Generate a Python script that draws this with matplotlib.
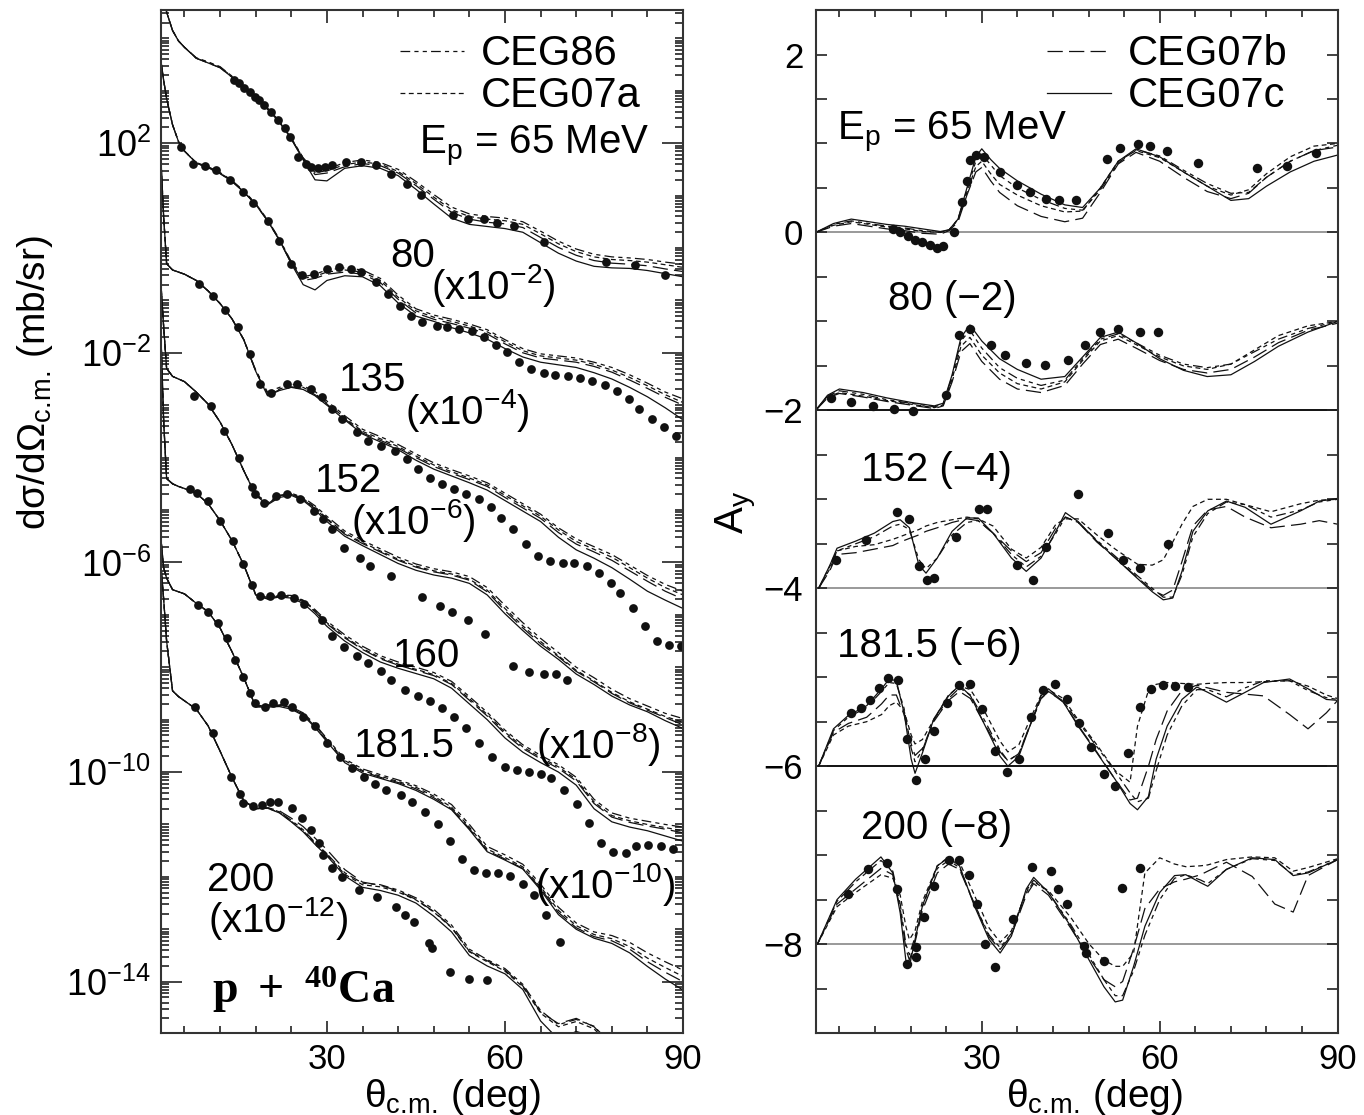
import numpy as np
import matplotlib
matplotlib.use('Agg')
import matplotlib.pyplot as plt
from matplotlib.ticker import FixedLocator, MultipleLocator, LogLocator, NullFormatter

plt.rcParams['font.family'] = ['Liberation Sans', 'DejaVu Sans']
plt.rcParams['mathtext.fontset'] = 'custom'
plt.rcParams['mathtext.rm'] = 'Liberation Sans'
plt.rcParams['mathtext.it'] = 'Liberation Sans:italic'
plt.rcParams['mathtext.bf'] = 'Liberation Serif:bold'
plt.rcParams['lines.scale_dashes'] = False

# ---------------- cross sections, log10(dsigma/dOmega / mb/sr), unscaled ----------------
th_l = [2, 2.5, 3, 4, 5, 6, 8, 10, 12, 14, 16, 18, 20, 22, 24, 26, 28, 30, 33, 36,
        39, 42, 45, 48, 51, 54, 57, 60, 63, 66, 69, 72, 75, 78, 81, 84, 87, 90]

xs65_c07c = [5.4, 4.9, 4.5, 4.15, 3.95, 3.83, 3.62, 3.53, 3.44, 3.26, 3.07, 2.88, 2.65, 2.40, 2.08, 1.68, 1.30, 1.28, 1.52, 1.57,
             1.52, 1.38, 1.12, 0.84, 0.57, 0.45, 0.41, 0.37, 0.30, 0.10, -0.10, -0.25, -0.35, -0.38, -0.39, -0.43, -0.49, -0.55]
xs65_c86 = [5.4, 4.9, 4.5, 4.15, 3.95, 3.83, 3.63, 3.55, 3.46, 3.28, 3.09, 2.90, 2.67, 2.42, 2.10, 1.72, 1.48, 1.50, 1.63, 1.68,
            1.63, 1.50, 1.27, 1.02, 0.78, 0.65, 0.60, 0.57, 0.50, 0.32, 0.13, -0.02, -0.12, -0.17, -0.19, -0.22, -0.27, -0.31]
xs65_c07a = [5.4, 4.9, 4.5, 4.15, 3.95, 3.83, 3.62, 3.54, 3.45, 3.27, 3.08, 2.89, 2.66, 2.41, 2.09, 1.71, 1.44, 1.47, 1.59, 1.64,
             1.60, 1.46, 1.23, 0.97, 0.73, 0.60, 0.55, 0.52, 0.45, 0.27, 0.08, -0.07, -0.17, -0.22, -0.24, -0.27, -0.32, -0.37]
xs65_c07b = [5.4, 4.9, 4.5, 4.15, 3.95, 3.83, 3.62, 3.53, 3.44, 3.26, 3.07, 2.88, 2.65, 2.40, 2.08, 1.70, 1.40, 1.43, 1.55, 1.61,
             1.57, 1.43, 1.19, 0.93, 0.68, 0.55, 0.49, 0.46, 0.39, 0.20, 0.01, -0.14, -0.24, -0.29, -0.31, -0.34, -0.40, -0.45]

xs80_c07c = [5.6, 5.2, 4.85, 4.35, 4.03, 3.85, 3.62, 3.53, 3.42, 3.27, 3.07, 2.83, 2.52, 2.15, 1.70, 1.30, 1.20, 1.38, 1.47, 1.45,
             1.28, 0.95, 0.70, 0.60, 0.48, 0.38, 0.26, 0.08, -0.08, -0.18, -0.23, -0.28, -0.38, -0.50, -0.66, -0.84, -1.05, -1.28]
xs80_c86 = [5.6, 5.2, 4.85, 4.35, 4.03, 3.85, 3.63, 3.55, 3.44, 3.29, 3.09, 2.85, 2.54, 2.17, 1.74, 1.45, 1.50, 1.58, 1.62, 1.58,
            1.42, 1.10, 0.84, 0.72, 0.64, 0.55, 0.44, 0.25, 0.08, -0.02, -0.06, -0.10, -0.18, -0.28, -0.42, -0.58, -0.75, -0.88]
xs80_c07a = [5.6, 5.2, 4.85, 4.35, 4.03, 3.85, 3.62, 3.54, 3.43, 3.28, 3.08, 2.84, 2.53, 2.16, 1.72, 1.42, 1.46, 1.54, 1.58, 1.54,
             1.38, 1.06, 0.80, 0.68, 0.60, 0.51, 0.40, 0.21, 0.04, -0.06, -0.10, -0.14, -0.22, -0.33, -0.47, -0.63, -0.80, -0.95]
xs80_c07b = [5.6, 5.2, 4.85, 4.35, 4.03, 3.85, 3.62, 3.53, 3.42, 3.27, 3.07, 2.83, 2.52, 2.15, 1.71, 1.38, 1.42, 1.50, 1.54, 1.50,
             1.34, 1.02, 0.76, 0.64, 0.56, 0.47, 0.36, 0.17, 0.00, -0.10, -0.14, -0.18, -0.26, -0.37, -0.52, -0.68, -0.85, -1.00]

xs135_c07c = [5.8, 4.6, 3.70, 3.58, 3.54, 3.50, 3.38, 3.18, 2.94, 2.65, 2.25, 1.65, 1.18, 1.28, 1.34, 1.30, 1.18, 1.00, 0.72, 0.45,
              0.30, 0.15, -0.05, -0.22, -0.35, -0.48, -0.62, -0.82, -1.02, -1.22, -1.52, -1.76, -1.92, -2.10, -2.32, -2.55, -2.72, -2.88]
xs135_c86 = [5.8, 4.6, 3.70, 3.58, 3.54, 3.50, 3.38, 3.18, 2.94, 2.65, 2.25, 1.67, 1.25, 1.34, 1.40, 1.37, 1.26, 1.08, 0.80, 0.54,
             0.40, 0.25, 0.07, -0.10, -0.23, -0.35, -0.48, -0.68, -0.88, -1.08, -1.34, -1.55, -1.70, -1.85, -2.05, -2.25, -2.42, -2.55]
xs135_c07a = [5.8, 4.6, 3.70, 3.58, 3.54, 3.50, 3.38, 3.18, 2.94, 2.65, 2.25, 1.66, 1.22, 1.31, 1.37, 1.34, 1.22, 1.04, 0.76, 0.50,
              0.36, 0.21, 0.03, -0.14, -0.27, -0.39, -0.52, -0.72, -0.92, -1.12, -1.38, -1.60, -1.75, -1.90, -2.10, -2.30, -2.48, -2.62]
xs135_c07b = [5.8, 4.6, 3.70, 3.58, 3.54, 3.50, 3.38, 3.18, 2.94, 2.65, 2.25, 1.65, 1.20, 1.29, 1.35, 1.32, 1.20, 1.02, 0.74, 0.47,
              0.33, 0.18, 0.00, -0.17, -0.30, -0.42, -0.55, -0.76, -0.96, -1.16, -1.43, -1.65, -1.80, -1.96, -2.16, -2.36, -2.55, -2.70]

xs152_c07c = [5.4, 4.5, 3.70, 3.55, 3.50, 3.45, 3.25, 3.02, 2.68, 2.25, 1.75, 1.28, 1.10, 1.24, 1.28, 1.18, 1.00, 0.78, 0.50, 0.32,
              0.15, -0.02, -0.15, -0.24, -0.30, -0.40, -0.62, -0.98, -1.30, -1.60, -1.85, -2.13, -2.33, -2.55, -2.72, -2.85, -3.02, -3.17]
xs152_c86 = [5.4, 4.5, 3.70, 3.55, 3.50, 3.45, 3.25, 3.02, 2.68, 2.25, 1.75, 1.30, 1.15, 1.28, 1.32, 1.24, 1.08, 0.88, 0.60, 0.42,
             0.26, 0.10, -0.03, -0.12, -0.18, -0.27, -0.48, -0.82, -1.15, -1.45, -1.72, -2.00, -2.20, -2.42, -2.60, -2.74, -2.88, -2.98]
xs152_c07a = [5.4, 4.5, 3.70, 3.55, 3.50, 3.45, 3.25, 3.02, 2.68, 2.25, 1.75, 1.29, 1.13, 1.27, 1.31, 1.22, 1.05, 0.84, 0.56, 0.38,
              0.22, 0.06, -0.07, -0.16, -0.22, -0.32, -0.53, -0.88, -1.21, -1.51, -1.78, -2.06, -2.26, -2.48, -2.66, -2.80, -2.94, -3.05]
xs152_c07b = [5.4, 4.5, 3.70, 3.55, 3.50, 3.45, 3.25, 3.02, 2.68, 2.25, 1.75, 1.28, 1.12, 1.26, 1.30, 1.20, 1.03, 0.82, 0.54, 0.36,
              0.20, 0.04, -0.09, -0.18, -0.24, -0.34, -0.56, -0.92, -1.25, -1.55, -1.80, -2.08, -2.28, -2.50, -2.68, -2.82, -2.96, -3.10]

xs160_c07c = [6.5, 4.7, 3.60, 3.50, 3.45, 3.41, 3.32, 3.12, 2.80, 2.42, 1.95, 1.38, 1.30, 1.34, 1.32, 1.22, 1.02, 0.78, 0.50, 0.28,
              0.10, -0.02, -0.12, -0.22, -0.40, -0.70, -1.00, -1.35, -1.62, -1.82, -2.00, -2.25, -2.70, -2.95, -3.05, -3.12, -3.22, -3.32]
xs160_c86 = [6.5, 4.7, 3.60, 3.50, 3.45, 3.41, 3.32, 3.12, 2.80, 2.42, 1.95, 1.40, 1.33, 1.38, 1.37, 1.28, 1.10, 0.88, 0.62, 0.40,
             0.22, 0.10, 0.00, -0.10, -0.27, -0.56, -0.86, -1.20, -1.48, -1.68, -1.86, -2.10, -2.52, -2.78, -2.88, -2.94, -3.00, -3.05]
xs160_c07a = [6.5, 4.7, 3.60, 3.50, 3.45, 3.41, 3.32, 3.12, 2.80, 2.42, 1.95, 1.39, 1.32, 1.37, 1.36, 1.27, 1.08, 0.85, 0.58, 0.36,
              0.18, 0.06, -0.04, -0.14, -0.31, -0.60, -0.90, -1.24, -1.52, -1.72, -1.90, -2.14, -2.57, -2.83, -2.93, -3.00, -3.06, -3.12]
xs160_c07b = [6.5, 4.7, 3.60, 3.50, 3.45, 3.41, 3.32, 3.12, 2.80, 2.42, 1.95, 1.38, 1.31, 1.36, 1.35, 1.25, 1.06, 0.83, 0.56, 0.34,
              0.16, 0.04, -0.06, -0.16, -0.33, -0.63, -0.93, -1.27, -1.55, -1.75, -1.93, -2.17, -2.60, -2.86, -2.96, -3.03, -3.09, -3.16]

xs181_c07c = [4.5, 3.9, 3.7, 3.48, 3.44, 3.40, 3.22, 3.06, 2.75, 2.30, 1.80, 1.24, 1.24, 1.25, 1.20, 1.08, 0.85, 0.58, 0.18, -0.02,
              -0.12, -0.22, -0.35, -0.52, -0.72, -1.10, -1.52, -1.68, -1.85, -2.25, -2.72, -3.00, -3.17, -3.27, -3.45, -3.71, -3.95, -4.16]
xs181_c86 = [4.5, 3.9, 3.7, 3.48, 3.44, 3.40, 3.22, 3.06, 2.75, 2.30, 1.80, 1.26, 1.28, 1.29, 1.24, 1.13, 0.91, 0.64, 0.25, 0.06,
             -0.05, -0.15, -0.26, -0.42, -0.62, -1.00, -1.42, -1.58, -1.76, -2.14, -2.58, -2.88, -3.05, -3.12, -3.25, -3.45, -3.62, -3.78]
xs181_c07a = [4.5, 3.9, 3.7, 3.48, 3.44, 3.40, 3.22, 3.06, 2.75, 2.30, 1.80, 1.25, 1.27, 1.28, 1.23, 1.11, 0.89, 0.62, 0.22, 0.03,
              -0.08, -0.18, -0.29, -0.46, -0.67, -1.05, -1.47, -1.63, -1.81, -2.19, -2.64, -2.93, -3.10, -3.18, -3.33, -3.55, -3.73, -3.90]
xs181_c07b = [4.5, 3.9, 3.7, 3.48, 3.44, 3.40, 3.22, 3.06, 2.75, 2.30, 1.80, 1.25, 1.26, 1.27, 1.22, 1.10, 0.87, 0.60, 0.20, 0.01,
              -0.10, -0.20, -0.32, -0.49, -0.70, -1.08, -1.50, -1.66, -1.84, -2.22, -2.68, -2.97, -3.14, -3.22, -3.38, -3.62, -3.82, -4.00]

xs200_c07c = [6.0, 5.3, 4.5, 3.55, 3.44, 3.36, 3.20, 2.88, 2.40, 1.90, 1.45, 1.30, 1.31, 1.22, 1.05, 0.86, 0.62, 0.40, 0.02, -0.20,
              -0.26, -0.35, -0.50, -0.75, -1.05, -1.50, -1.70, -1.85, -2.15, -2.75, -3.10, -2.95, -3.05, -3.40, -3.60, -3.80, -4.00, -4.20]
xs200_c86 = [6.0, 5.3, 4.5, 3.55, 3.44, 3.36, 3.20, 2.88, 2.40, 1.90, 1.45, 1.31, 1.32, 1.24, 1.08, 0.90, 0.66, 0.44, 0.08, -0.12,
             -0.15, -0.25, -0.40, -0.62, -0.92, -1.38, -1.58, -1.75, -2.05, -2.55, -2.82, -2.72, -2.85, -3.20, -3.50, -3.75, -3.95, -4.10]
xs200_c07a = [6.0, 5.3, 4.5, 3.55, 3.44, 3.36, 3.20, 2.88, 2.40, 1.90, 1.45, 1.30, 1.31, 1.23, 1.06, 0.88, 0.64, 0.42, 0.05, -0.15,
              -0.19, -0.29, -0.44, -0.67, -0.97, -1.43, -1.62, -1.80, -2.10, -2.60, -2.86, -2.76, -2.90, -3.25, -3.55, -3.80, -4.00, -4.15]
xs200_c07b = [6.0, 5.3, 4.5, 3.55, 3.44, 3.36, 3.20, 2.88, 2.40, 1.90, 1.45, 1.30, 1.32, 1.26, 1.12, 0.96, 0.74, 0.52, 0.14, -0.10,
              -0.16, -0.27, -0.43, -0.66, -0.96, -1.42, -1.60, -1.78, -2.08, -2.58, -2.80, -2.70, -2.86, -3.22, -3.52, -3.78, -3.98, -4.12]

# measured cross sections (log10, unscaled)
d65_th = [14.4, 15.2, 16.1, 17.0, 17.9, 18.5, 19.4, 20.5, 21.7, 22.9, 23.8, 25.2, 26.4, 27.3, 28.5, 29.7, 30.8, 33.2, 35.8, 38.2,
          40.8, 43.5, 45.9, 51.2, 53.7, 56.4, 58.6, 61.5, 66.6, 77.0, 81.9, 86.9]
d65_lg = [3.20, 3.14, 3.05, 2.98, 2.89, 2.82, 2.73, 2.60, 2.44, 2.28, 2.12, 1.74, 1.61, 1.55, 1.52, 1.55, 1.58, 1.64, 1.64, 1.58,
          1.42, 1.23, 1.01, 0.63, 0.56, 0.55, 0.47, 0.42, 0.12, -0.26, -0.33, -0.52]
d80_th = [5.4, 7.4, 9.4, 11.3, 13.7, 15.8, 17.6, 20.0, 22.0, 23.9, 25.8, 27.9, 30.0, 32.0, 34.1, 35.8, 38.2, 40.3, 42.3, 44.1,
          46.1, 48.5, 50.3, 52.3, 54.4, 56.4, 58.5, 60.3, 62.3, 64.4, 66.5, 68.5, 70.6, 72.6, 74.7, 76.8, 78.8, 80.9, 82.6, 84.7,
          86.8, 88.8]
d80_lg = [3.93, 3.61, 3.57, 3.48, 3.29, 3.07, 2.85, 2.51, 2.13, 1.69, 1.48, 1.51, 1.60, 1.63, 1.60, 1.54, 1.35, 1.13, 0.90, 0.71,
          0.58, 0.52, 0.49, 0.46, 0.42, 0.30, 0.14, 0.01, -0.18, -0.31, -0.39, -0.42, -0.45, -0.48, -0.53, -0.61, -0.72, -0.88,
          -1.07, -1.26, -1.42, -1.58]
d135_th = [8.5, 10.8, 12.9, 15.0, 17.0, 18.8, 20.5, 23.2, 25.0, 27.3, 29.1, 30.8, 32.6, 35.0, 37.0, 39.1, 41.4, 43.5, 45.3, 47.3,
           49.4, 51.4, 53.5, 55.6, 57.6, 59.4, 61.4, 63.5, 65.6, 67.6, 69.7, 71.7, 73.8, 75.9, 77.9, 79.4, 81.5, 83.5, 85.6, 87.6,
           89.7]
d135_lg = [3.32, 3.09, 2.81, 2.49, 1.98, 1.41, 1.24, 1.41, 1.41, 1.31, 1.15, 0.93, 0.74, 0.48, 0.32, 0.23, 0.13, -0.03, -0.22, -0.38,
           -0.51, -0.60, -0.70, -0.79, -0.95, -1.15, -1.37, -1.65, -1.88, -1.97, -2.01, -2.01, -2.07, -2.20, -2.39, -2.58, -2.87,
           -3.22, -3.50, -3.57, -3.60]
d152_th = [7.6, 10.5, 12.6, 15.2, 17.3, 17.9, 19.4, 21.4, 23.2, 25.5, 27.9, 29.4, 30.8, 32.9, 35.5, 37.3, 40.8, 46.0, 49.0, 51.0,
           53.7, 56.6, 61.4, 64.0, 66.6, 68.6, 70.5]
d152_lg = [3.18, 2.99, 2.51, 2.00, 1.43, 1.30, 1.14, 1.27, 1.30, 1.21, 0.98, 0.82, 0.63, 0.28, 0.09, -0.07, -0.26, -0.66, -0.83,
           -0.95, -1.10, -1.36, -1.97, -2.10, -2.12, -2.13, -2.25]
d160_th = [7.0, 8.2, 9.9, 12.0, 14.1, 15.9, 17.3, 18.7, 20.4, 22.2, 24.4, 26.1, 29.1, 30.8, 32.9, 35.0, 37.0, 39.1, 40.8, 43.2,
           45.3, 47.3, 49.4, 51.4, 53.5, 55.7, 57.8, 60.0, 62.0, 64.0, 66.0, 67.8, 69.9, 72.1, 74.1, 76.1, 78.2, 80.3, 82.1, 84.1,
           86.2, 88.3]
d160_lg = [3.40, 3.33, 3.17, 2.79, 2.41, 1.97, 1.56, 1.35, 1.36, 1.37, 1.33, 1.20, 0.91, 0.60, 0.38, 0.21, 0.08, -0.08, -0.24, -0.43,
           -0.55, -0.65, -0.78, -0.94, -1.16, -1.45, -1.72, -1.90, -1.96, -2.00, -2.04, -2.12, -2.34, -2.61, -2.98, -3.36, -3.52,
           -3.54, -3.42, -3.39, -3.42, -3.47]
d181_th = [8.3, 10.0, 11.7, 13.1, 14.5, 15.9, 17.0, 17.9, 19.6, 21.0, 22.7, 24.1, 26.0, 28.0, 30.0, 32.2, 34.2, 36.2, 38.1, 39.9,
           42.4, 44.4, 46.6, 48.7, 50.7, 52.7, 54.8, 56.8, 58.9, 60.9, 63.0, 64.9, 66.9, 69.2]
d181_lg = [3.19, 3.06, 2.84, 2.55, 2.14, 1.82, 1.50, 1.31, 1.25, 1.31, 1.34, 1.25, 1.06, 0.87, 0.55, 0.29, 0.07, -0.09, -0.22, -0.34,
           -0.44, -0.58, -0.77, -1.00, -1.31, -1.65, -1.86, -1.92, -1.93, -1.98, -2.14, -2.35, -2.73, -3.24]
d200_th = [7.7, 10.8, 13.9, 15.3, 15.9, 17.6, 19.0, 20.4, 21.8, 24.1, 25.8, 27.4, 28.6, 29.4, 30.8, 32.5, 35.4, 38.4, 41.6, 43.1,
           44.6, 47.2, 47.7, 50.8, 53.9, 57.0]
d200_lg = [3.25, 2.74, 1.91, 1.59, 1.40, 1.35, 1.37, 1.43, 1.43, 1.31, 1.12, 0.89, 0.64, 0.42, 0.16, 0.00, -0.25, -0.38, -0.57, -0.73,
           -0.86, -1.27, -1.36, -1.81, -1.94, -1.97]

# ---------------- analyzing powers ----------------
th_r65 = [2, 5, 8, 11, 14, 17, 20, 23, 24.5, 26, 27.5, 29, 30, 31.5, 33, 36, 40, 44, 47, 50, 53, 56, 60, 64, 68, 72, 75, 78, 82, 86, 90]
ay65_c07c = [0.0, 0.10, 0.15, 0.12, 0.09, 0.07, 0.04, 0.01, 0.03, 0.15, 0.50, 0.85, 0.94, 0.82, 0.72, 0.58, 0.43, 0.31, 0.28, 0.50,
             0.80, 0.94, 0.85, 0.68, 0.52, 0.36, 0.38, 0.52, 0.68, 0.80, 0.87]
ay65_c86 = [0.0, 0.09, 0.13, 0.10, 0.07, 0.05, 0.02, 0.00, 0.03, 0.15, 0.48, 0.80, 0.88, 0.76, 0.64, 0.50, 0.37, 0.27, 0.25, 0.48,
            0.78, 0.93, 0.86, 0.70, 0.55, 0.44, 0.45, 0.62, 0.80, 0.92, 0.98]
ay65_c07a = [0.0, 0.08, 0.12, 0.09, 0.06, 0.04, 0.01, 0.00, 0.03, 0.14, 0.45, 0.74, 0.80, 0.66, 0.54, 0.42, 0.30, 0.23, 0.24, 0.50,
             0.80, 0.92, 0.84, 0.68, 0.52, 0.42, 0.48, 0.66, 0.85, 0.97, 1.00]
ay65_c07b = [0.0, 0.07, 0.10, 0.07, 0.04, 0.02, -0.01, -0.02, 0.02, 0.12, 0.42, 0.68, 0.73, 0.58, 0.45, 0.30, 0.18, 0.12, 0.16, 0.45,
             0.77, 0.90, 0.80, 0.62, 0.46, 0.38, 0.44, 0.62, 0.80, 0.92, 0.96]

th_r80 = [2, 4, 6, 10, 14, 18, 22, 23.5, 25, 26.5, 28, 30, 33, 36, 40, 44, 47, 50, 53, 56, 60, 64, 68, 72, 76, 80, 85, 90]
ay80_c07c = [0.0, 0.17, 0.24, 0.20, 0.14, 0.09, 0.05, 0.08, 0.40, 0.82, 0.96, 0.78, 0.58, 0.46, 0.35, 0.38, 0.60, 0.82, 0.88, 0.76,
             0.58, 0.45, 0.38, 0.40, 0.55, 0.72, 0.88, 1.0]
ay80_c86 = [0.0, 0.16, 0.22, 0.18, 0.12, 0.08, 0.04, 0.07, 0.38, 0.78, 0.90, 0.70, 0.48, 0.36, 0.28, 0.34, 0.58, 0.80, 0.86, 0.76,
            0.62, 0.52, 0.48, 0.52, 0.66, 0.80, 0.92, 1.0]
ay80_c07a = [0.0, 0.15, 0.20, 0.16, 0.11, 0.07, 0.03, 0.06, 0.35, 0.72, 0.82, 0.62, 0.42, 0.30, 0.24, 0.32, 0.56, 0.78, 0.84, 0.74,
             0.60, 0.50, 0.46, 0.52, 0.68, 0.84, 0.95, 1.0]
ay80_c07b = [0.0, 0.14, 0.19, 0.15, 0.10, 0.06, 0.02, 0.05, 0.32, 0.66, 0.75, 0.55, 0.35, 0.24, 0.20, 0.28, 0.52, 0.74, 0.80, 0.70,
             0.56, 0.46, 0.42, 0.46, 0.60, 0.76, 0.90, 0.98]

th_r152 = [2.5, 4.4, 5.6, 8.75, 11.9, 15, 16.25, 17.8, 19.4, 20.6, 22.5, 25, 27.5, 29.4, 31.9, 35, 37.5, 40, 42.5, 44.1,
           46.25, 49.4, 52.5, 56.25, 58.75, 60.6, 62.2, 63.75, 65.6, 68.1, 71.25, 74.4, 78.75, 83.75, 86.9, 90]
ay152_c07c = [0.0, 0.26, 0.45, 0.53, 0.62, 0.75, 0.77, 0.68, 0.26, 0.17, 0.34, 0.64, 0.79, 0.79, 0.62, 0.34, 0.19, 0.34, 0.64, 0.85,
              0.75, 0.53, 0.34, 0.11, -0.04, -0.13, -0.11, 0.19, 0.64, 0.87, 0.98, 0.91, 0.72, 0.87, 0.98, 1.01]
ay152_c86 = [0.0, 0.25, 0.42, 0.50, 0.58, 0.70, 0.72, 0.66, 0.32, 0.22, 0.34, 0.60, 0.74, 0.76, 0.62, 0.38, 0.24, 0.36, 0.62, 0.80,
             0.74, 0.54, 0.36, 0.14, 0.00, -0.10, -0.10, 0.15, 0.58, 0.84, 0.97, 0.94, 0.80, 0.88, 0.97, 1.0]
ay152_c07a = [0.0, 0.22, 0.42, 0.47, 0.49, 0.55, 0.58, 0.62, 0.66, 0.70, 0.74, 0.77, 0.80, 0.78, 0.70, 0.44, 0.34, 0.46, 0.72, 0.78,
              0.78, 0.60, 0.44, 0.27, 0.26, 0.32, 0.52, 0.72, 0.92, 1.00, 1.00, 0.94, 0.86, 0.95, 0.99, 1.0]
ay152_c07b = [0.0, 0.20, 0.38, 0.40, 0.44, 0.48, 0.52, 0.56, 0.60, 0.64, 0.68, 0.74, 0.78, 0.76, 0.62, 0.42, 0.30, 0.40, 0.68, 0.80,
              0.74, 0.52, 0.34, 0.12, -0.02, -0.08, -0.02, 0.30, 0.70, 0.88, 0.92, 0.80, 0.68, 0.72, 0.76, 0.72]

th_r181 = [2.5, 5, 7.5, 10.6, 13.1, 14.4, 15.6, 16.9, 18.1, 18.75, 20, 21.9, 24.4, 26.25, 28.1, 30.6, 33.1, 34.4, 36.25, 38.1,
           40, 41.25, 43.75, 46.25, 49.4, 52.5, 55, 56.25, 58.1, 59.4, 61.25, 63.75, 66.25, 68.1, 71.25, 74.4, 77.5, 81.9, 85, 88.1, 90]
ay181_c07c = [0.0, 0.42, 0.57, 0.68, 0.87, 0.98, 0.96, 0.60, 0.08, -0.08, 0.15, 0.53, 0.79, 0.91, 0.79, 0.45, 0.11, 0.0, 0.11, 0.45,
              0.79, 0.87, 0.72, 0.45, 0.15, -0.15, -0.42, -0.49, -0.34, 0.08, 0.45, 0.75, 0.89, 0.83, 0.72, 0.83, 0.94, 0.98, 0.87,
              0.75, 0.74]
ay181_c86 = [0.0, 0.40, 0.55, 0.66, 0.84, 0.94, 0.93, 0.65, 0.20, 0.05, 0.18, 0.52, 0.76, 0.88, 0.80, 0.50, 0.18, 0.06, 0.14, 0.45,
             0.76, 0.84, 0.73, 0.50, 0.22, -0.06, -0.30, -0.40, -0.36, -0.05, 0.35, 0.68, 0.86, 0.86, 0.78, 0.88, 0.96, 0.96, 0.85,
             0.77, 0.75]
ay181_c07a = [0.0, 0.35, 0.45, 0.50, 0.58, 0.68, 0.72, 0.62, 0.35, 0.25, 0.30, 0.52, 0.80, 0.90, 0.86, 0.60, 0.28, 0.16, 0.24, 0.52,
              0.80, 0.86, 0.76, 0.52, 0.24, -0.05, -0.18, 0.45, 0.85, 0.92, 0.94, 0.93, 0.92, 0.93, 0.94, 0.94, 0.95, 0.96, 0.90,
              0.80, 0.76]
ay181_c07b = [0.0, 0.38, 0.48, 0.55, 0.70, 0.80, 0.80, 0.58, 0.25, 0.12, 0.20, 0.50, 0.74, 0.84, 0.76, 0.46, 0.16, 0.06, 0.14, 0.46,
              0.76, 0.84, 0.72, 0.46, 0.16, -0.15, -0.38, -0.36, 0.00, 0.30, 0.62, 0.85, 0.91, 0.88, 0.83, 0.81, 0.79, 0.58, 0.42,
              0.60, 0.74]

th_r200 = [2.3, 5.6, 8.75, 13, 15, 16.25, 17.2, 17.8, 18.75, 20, 22.5, 24.4, 26.25, 28.75, 31.25, 33.1, 35, 37.5, 38.75, 41.25,
           45, 48.1, 50.6, 52.5, 53.75, 55.6, 57.5, 60, 62.5, 64.4, 66.9, 68.1, 71.25, 75.6, 79.4, 82.5, 85, 90]
ay200_c07c = [0.0, 0.50, 0.73, 0.98, 0.80, 0.35, -0.18, -0.25, 0.05, 0.43, 0.88, 0.97, 0.88, 0.43, 0.05, -0.10, 0.09, 0.62, 0.75, 0.58,
              0.20, -0.18, -0.48, -0.65, -0.63, -0.25, 0.20, 0.58, 0.77, 0.78, 0.69, 0.65, 0.84, 0.97, 0.95, 0.77, 0.80, 0.95]
ay200_c86 = [0.0, 0.48, 0.70, 0.94, 0.82, 0.45, 0.00, -0.12, 0.08, 0.42, 0.85, 0.94, 0.86, 0.45, 0.10, -0.04, 0.12, 0.60, 0.72, 0.58,
             0.22, -0.12, -0.40, -0.58, -0.58, -0.30, 0.10, 0.50, 0.74, 0.78, 0.72, 0.68, 0.84, 0.96, 0.94, 0.78, 0.81, 0.95]
ay200_c07a = [0.0, 0.42, 0.58, 0.78, 0.74, 0.55, 0.20, 0.05, 0.15, 0.48, 0.88, 0.98, 0.92, 0.55, 0.18, 0.02, 0.15, 0.58, 0.70, 0.60,
              0.30, 0.00, -0.18, -0.25, -0.25, -0.10, 0.80, 0.97, 0.90, 0.87, 0.88, 0.89, 0.95, 0.98, 0.97, 0.82, 0.86, 0.96]
ay200_c07b = [0.0, 0.45, 0.62, 0.85, 0.78, 0.40, -0.05, -0.18, 0.02, 0.38, 0.80, 0.90, 0.84, 0.45, 0.08, -0.06, 0.10, 0.55, 0.68, 0.55,
              0.18, -0.15, -0.40, -0.48, -0.42, -0.05, 0.40, 0.62, 0.70, 0.73, 0.78, 0.82, 0.92, 0.76, 0.45, 0.36, 0.77, 0.95]

a65_th = [15.0, 16.3, 17.5, 18.8, 20.0, 21.3, 22.5, 23.4, 25.3, 26.6, 27.5, 28.1, 29.1, 30.3, 33.1, 35.9, 38.1, 40.9, 43.1, 45.9,
          51.1, 53.3, 56.3, 58.3, 61.3, 66.4, 76.4, 81.4, 86.4]
a65_ay = [0.04, 0.00, -0.04, -0.08, -0.11, -0.14, -0.17, -0.15, 0.00, 0.34, 0.58, 0.81, 0.87, 0.85, 0.68, 0.53, 0.45, 0.38, 0.36, 0.37,
          0.82, 0.95, 0.99, 0.97, 0.91, 0.78, 0.72, 0.75, 0.89]
a80_th = [4.6, 8.0, 11.7, 15.2, 18.4, 23.9, 26.1, 28.1, 31.5, 34.0, 37.4, 40.7, 44.6, 47.4, 50.0, 53.0, 56.7, 59.7]
a80_ay = [0.14, 0.09, 0.05, 0.02, -0.01, 0.17, 0.85, 0.91, 0.74, 0.62, 0.53, 0.51, 0.57, 0.74, 0.88, 0.91, 0.88, 0.88]
a152_th = [5.5, 10.5, 15.75, 17.7, 19.4, 20.75, 21.9, 25.6, 29.5, 30.9, 35.9, 38.6, 40.9, 46.25, 51.25, 53.75, 56.7, 61.4]
a152_ay = [0.32, 0.54, 0.86, 0.78, 0.25, 0.09, 0.12, 0.58, 0.89, 0.89, 0.26, 0.09, 0.46, 1.06, 0.62, 0.32, 0.23, 0.50]
a181_th = [8.0, 9.6, 11.1, 12.6, 14.25, 15.8, 17.4, 18.9, 20.5, 21.9, 24.1, 26.1, 28.1, 30.0, 32.2, 34.25, 36.25, 38.3, 40.3, 42.4,
           44.4, 46.4, 48.4, 50.6, 52.5, 54.6, 56.6, 58.6, 60.6, 62.6, 64.7]
a181_ay = [0.60, 0.65, 0.74, 0.88, 0.99, 0.97, 0.31, -0.16, 0.08, 0.40, 0.71, 0.91, 0.92, 0.64, 0.17, -0.06, 0.08, 0.55, 0.86, 0.92,
           0.76, 0.49, 0.21, -0.09, -0.22, 0.15, 0.67, 0.87, 0.91, 0.90, 0.89]
a200_th = [7.5, 10.9, 14.1, 15.75, 17.4, 18.9, 18.9, 20.3, 21.9, 24.5, 26.1, 27.8, 29.25, 30.6, 32.2, 35.3, 38.4, 41.6, 42.8, 44.4,
           47.2, 47.6, 50.6, 53.6, 56.7]
a200_ay = [0.56, 0.84, 0.91, 0.62, -0.22, -0.15, -0.03, 0.31, 0.65, 0.95, 0.95, 0.78, 0.45, 0.00, -0.26, 0.28, 0.87, 0.82, 0.62, 0.45,
           -0.02, -0.10, -0.19, 0.63, 0.85]

models = ['CEG07c', 'CEG86', 'CEG07a', 'CEG07b']
dashes = {'CEG86': (0, (7, 3, 3, 3, 3, 3)), 'CEG07a': (0, (3.5, 2.5)),
          'CEG07b': (0, (11, 4.5)), 'CEG07c': '-'}

xs_sets = [
    (dict(zip(models, [xs65_c07c, xs65_c86, xs65_c07a, xs65_c07b])), d65_th, d65_lg),
    (dict(zip(models, [xs80_c07c, xs80_c86, xs80_c07a, xs80_c07b])), d80_th, d80_lg),
    (dict(zip(models, [xs135_c07c, xs135_c86, xs135_c07a, xs135_c07b])), d135_th, d135_lg),
    (dict(zip(models, [xs152_c07c, xs152_c86, xs152_c07a, xs152_c07b])), d152_th, d152_lg),
    (dict(zip(models, [xs160_c07c, xs160_c86, xs160_c07a, xs160_c07b])), d160_th, d160_lg),
    (dict(zip(models, [xs181_c07c, xs181_c86, xs181_c07a, xs181_c07b])), d181_th, d181_lg),
    (dict(zip(models, [xs200_c07c, xs200_c86, xs200_c07a, xs200_c07b])), d200_th, d200_lg),
]
ay_sets = [
    (th_r65, dict(zip(models, [ay65_c07c, ay65_c86, ay65_c07a, ay65_c07b])), a65_th, a65_ay),
    (th_r80, dict(zip(models, [ay80_c07c, ay80_c86, ay80_c07a, ay80_c07b])), a80_th, a80_ay),
    (th_r152, dict(zip(models, [ay152_c07c, ay152_c86, ay152_c07a, ay152_c07b])), a152_th, a152_ay),
    (th_r181, dict(zip(models, [ay181_c07c, ay181_c86, ay181_c07a, ay181_c07b])), a181_th, a181_ay),
    (th_r200, dict(zip(models, [ay200_c07c, ay200_c86, ay200_c07a, ay200_c07b])), a200_th, a200_ay),
]

fig = plt.figure(figsize=(13.64, 11.15), dpi=100)
ax1 = fig.add_axes([0.1178, 0.0735, 0.383, 0.9175])
ax2 = fig.add_axes([0.598, 0.0735, 0.3827, 0.9175])

ink = '#111111'
handles = {}
for k, (curves, dth, dlg) in enumerate(xs_sets):
    for m in models:
        ln, = ax1.plot(th_l, 10.0 ** (np.array(curves[m]) - 2 * k), color=ink, lw=0.9, ls=dashes[m])
        handles[m] = ln
    ax1.plot(dth, 10.0 ** (np.array(dlg) - 2 * k), 'o', color=ink, ms=6.3, mec='none')

for k, (th, curves, dth, day) in enumerate(ay_sets):
    ax2.axhline(-2 * k, color='#999999' if k % 2 == 0 else ink, lw=1.4, zorder=1)
    for m in models:
        ax2.plot(th, np.array(curves[m]) - 2 * k, color=ink, lw=0.9, ls=dashes[m], zorder=2)
    ax2.plot(dth, np.array(day) - 2 * k, 'o', color=ink, ms=6.8, mec='none', zorder=3)

# axes, ticks
for ax in (ax1, ax2):
    ax.set_xlim(2, 90)
    ax.xaxis.set_major_locator(FixedLocator([30, 60, 90]))
    ax.xaxis.set_minor_locator(MultipleLocator(6))
    ax.tick_params(which='both', direction='in', top=True, right=True, width=1.2, colors='#222222',
                   labelcolor='black', labelsize=25)
    ax.tick_params(axis='x', which='major', length=9, pad=7)
    ax.tick_params(axis='x', which='minor', length=5)
    for s in ax.spines.values():
        s.set_linewidth(1.5)
        s.set_color('#333333')

ax1.set_yscale('log')
ax1.set_ylim(10 ** -14.98, 10 ** 4.54)
ax1.yaxis.set_major_locator(FixedLocator([1e2, 1e-2, 1e-6, 1e-10, 1e-14]))
ax1.yaxis.set_minor_locator(LogLocator(base=10, subs=np.arange(1, 10), numticks=200))
ax1.yaxis.set_minor_formatter(NullFormatter())
ax1.tick_params(axis='y', which='major', length=15, pad=7, labelsize=26)
ax1.tick_params(axis='y', which='minor', length=6)

ax2.set_ylim(-9, 2.5)
ax2.yaxis.set_major_locator(MultipleLocator(2))
ax2.yaxis.set_minor_locator(MultipleLocator(0.5))
ax2.tick_params(axis='y', which='both', length=8, pad=9)

# legends
leg_kw = dict(loc='upper right', frameon=False, fontsize=30, handlelength=1.55,
              handletextpad=0.4, labelspacing=0.05, borderaxespad=0.3)
ax1.legend([handles['CEG86'], handles['CEG07a']], ['CEG86', 'CEG07a'], bbox_to_anchor=(0.975, 1.005), **leg_kw)
ax2.legend([handles['CEG07b'], handles['CEG07c']], ['CEG07b', 'CEG07c'], bbox_to_anchor=(0.96, 1.005), **leg_kw)

# annotations, left panel
fs = 29
t1 = ax1.transAxes
ax1.text(0.715, 0.868, 'E$_{\\rm p}$ = 65 MeV', transform=t1, ha='center', va='center', fontsize=fs)
ax1.text(0.483, 0.760, '80', transform=t1, ha='center', va='center', fontsize=fs)
ax1.text(0.636, 0.731, '(x10$^{-2}$)', transform=t1, ha='center', va='center', fontsize=fs)
ax1.text(0.406, 0.638, '135', transform=t1, ha='center', va='center', fontsize=fs)
ax1.text(0.588, 0.609, '(x10$^{-4}$)', transform=t1, ha='center', va='center', fontsize=fs)
ax1.text(0.359, 0.540, '152', transform=t1, ha='center', va='center', fontsize=fs)
ax1.text(0.483, 0.501, '(x10$^{-6}$)', transform=t1, ha='center', va='center', fontsize=fs)
ax1.text(0.508, 0.369, '160', transform=t1, ha='center', va='center', fontsize=fs)
ax1.text(0.837, 0.282, '(x10$^{-8}$)', transform=t1, ha='center', va='center', fontsize=fs)
ax1.text(0.466, 0.281, '181.5', transform=t1, ha='center', va='center', fontsize=fs)
ax1.text(0.851, 0.145, '(x10$^{-10}$)', transform=t1, ha='center', va='center', fontsize=fs)
ax1.text(0.154, 0.150, '200', transform=t1, ha='center', va='center', fontsize=fs)
ax1.text(0.225, 0.112, '(x10$^{-12}$)', transform=t1, ha='center', va='center', fontsize=fs)
ax1.text(0.273, 0.042, r'$\mathbf{p\ +\ {}^{40}Ca}$', transform=t1, ha='center', va='center', fontsize=33)

# annotations, right panel
t2 = ax2.transAxes
ax2.text(0.262, 0.881, 'E$_{\\rm p}$ = 65 MeV', transform=t2, ha='center', va='center', fontsize=fs)
ax2.text(0.261, 0.718, '80 (\u22122)', transform=t2, ha='center', va='center', fontsize=fs)
ax2.text(0.232, 0.550, '152 (\u22124)', transform=t2, ha='center', va='center', fontsize=fs)
ax2.text(0.218, 0.378, '181.5 (\u22126)', transform=t2, ha='center', va='center', fontsize=fs)
ax2.text(0.232, 0.200, '200 (\u22128)', transform=t2, ha='center', va='center', fontsize=fs)

# axis titles
cm = '$_{\\rm c.\\!m.\\!}$'
fig.text(35 / 1364, 1 - 383 / 1115, 'd\u03c3/d\u03a9' + cm + ' (mb/sr)', rotation=90,
         ha='center', va='center', fontsize=28)
fig.text(735 / 1364, 1 - 512 / 1115, 'A$_{\\rm y}$', rotation=90, ha='center', va='center', fontsize=fs)
fig.text(453 / 1364, 1 - 1097 / 1115, '\u03b8' + cm + ' (deg)', ha='center', va='center', fontsize=28)
fig.text(1095 / 1364, 1 - 1097 / 1115, '\u03b8' + cm + ' (deg)', ha='center', va='center', fontsize=28)

fig.savefig('out.png', dpi=100, facecolor='white')
